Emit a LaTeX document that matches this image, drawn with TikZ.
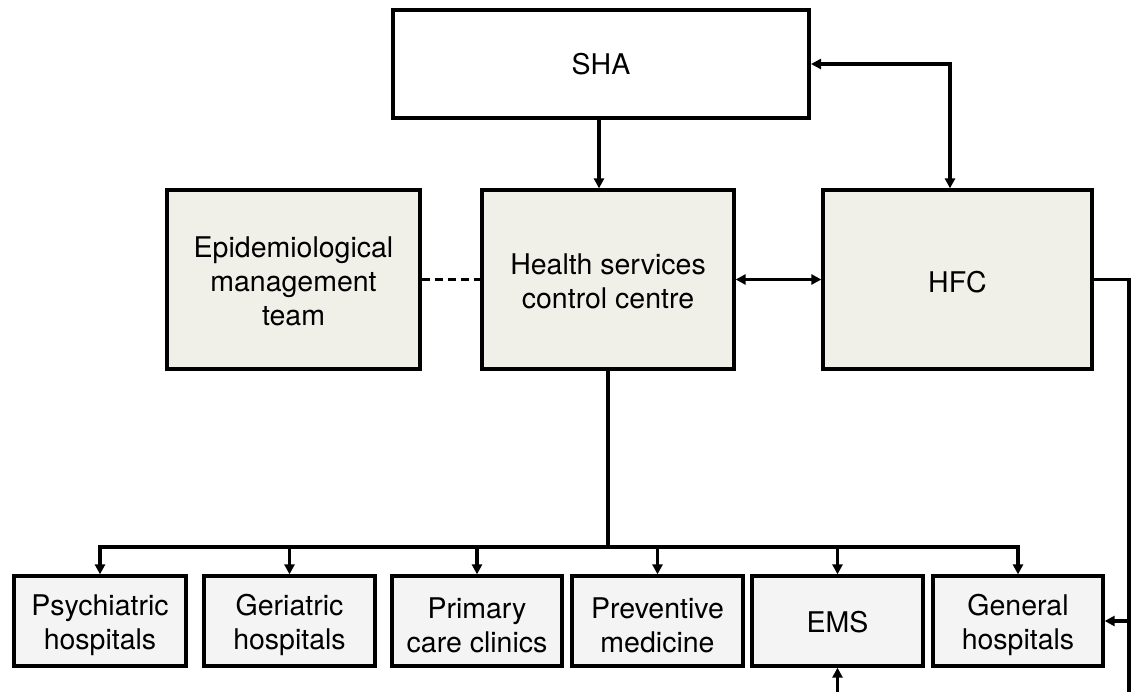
\documentclass[tikz,border=0pt]{standalone}
\usepackage{fontspec}
\setmainfont{TeX Gyre Heros}
\usetikzlibrary{arrows.meta}
\definecolor{midfill}{RGB}{240,239,232}
\definecolor{lowfill}{RGB}{244,244,244}
\begin{document}
\begin{tikzpicture}[x=1pt,y=-1pt,
  font=\fontsize{28.5}{34}\selectfont,
  box/.style={draw=black,rectangle,align=center,inner sep=0pt},
  padtop/.style={execute at begin node={\rule{0pt}{#1}}},
  topbox/.style={box,line width=4pt,fill=white,minimum width=416,minimum height=108},
  midbox/.style={box,line width=3.3pt,fill=midfill,minimum height=179},
  lowbox/.style={box,line width=3.3pt,fill=lowfill,minimum height=90},
  lowpair/.style={lowbox,padtop=63pt},
  link/.style={line width=3.1pt,line cap=rect},
  tip/.style={-{Triangle[length=10pt,width=10pt]}},
  tips/.style={{Triangle[length=10pt,width=10pt]}-{Triangle[length=10pt,width=10pt]}}]
\useasboundingbox (0,0) rectangle (1132,691);

% top level
\node[topbox] (sha) at (601,64) {SHA};

% middle row
\node[midbox,padtop=93pt,minimum width=253] (epi) at (293.5,279.5) {Epidemiological\\management\\team};
\node[midbox,padtop=59pt,minimum width=252] (hscc) at (608,279.5) {Health services\\control centre};
\node[midbox,padtop=27pt,minimum width=269] (hfc) at (957.5,279.5) {HFC};

% bottom row
\node[lowpair,minimum width=172] (psy) at (100,621) {Psychiatric\\hospitals};
\node[lowpair,minimum width=171] (ger) at (289.5,621) {Geriatric\\hospitals};
\node[lowpair,minimum width=170] (pcc) at (477,621) {Primary\\care clinics};
\node[lowpair,minimum width=171] (prv) at (657.5,621) {Preventive\\medicine};
\node[lowbox,padtop=23pt,minimum width=171] (ems) at (837.5,621) {EMS};
\node[lowpair,minimum width=170] (gen) at (1018,621) {General\\hospitals};

% helper points
\coordinate (bus) at (608,547);
\coordinate (sharm) at (950,64);
\coordinate (rail) at (1129,691);
\coordinate (emsin) at (837.5,691);

% SHA to control centre
\draw[link,tip] ([xshift=-2pt]sha.south) -- ([xshift=-9pt]hscc.north);

% SHA <-> HFC
\draw[link,tips] (sha.east) -- (sharm) -- (sharm |- hfc.north);

% control centre links
\draw[link,dash pattern=on 8pt off 5pt,line cap=butt] (epi.east) -- (hscc.west);
\draw[link,tips] (hscc.east) -- (hfc.west);

% distribution bus
\draw[link] (hscc.south) -- (bus);
\draw[link] (psy.north |- bus) -- (gen.north |- bus);
\foreach \b in {psy,ger,pcc,prv,ems,gen}
  \draw[link,tip] (\b.north |- bus) -- (\b.north);

% HFC rail down the right side
\draw[link] (hfc.east) -| (rail);
\draw[link,tip] (gen.east -| rail) -- (gen.east);

% incoming link to EMS
\draw[link,tip] (emsin) -- (ems.south);
\end{tikzpicture}
\end{document}
